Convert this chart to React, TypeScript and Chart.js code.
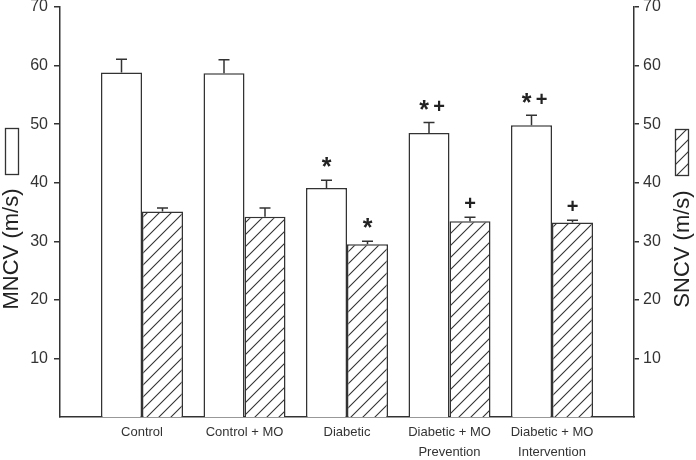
import React, { useEffect, useRef } from 'react';
import { Chart, registerables } from 'chart.js';

Chart.register(...registerables);

const FAMILY = 'Arial, "Liberation Sans", Helvetica, sans-serif';

const categories: string[][] = [
  ['Control'],
  ['Control + MO'],
  ['Diabetic'],
  ['Diabetic + MO', 'Prevention'],
  ['Diabetic + MO', 'Intervention'],
];
const mncv = [58.8, 58.7, 39.1, 48.5, 49.8];
const mncvErr = [2.3, 2.3, 1.3, 1.8, 1.7];
const sncv = [35.1, 34.2, 29.5, 33.4, 33.2];
const sncvErr = [0.6, 1.5, 0.5, 0.7, 0.4];
const mncvMarks = ['', '', '*', '*+', '*+'];
const sncvMarks = ['', '', '*', '+', '+'];
const yTicks = [10, 20, 30, 40, 50, 60, 70];
const leftTitle = 'MNCV (m/s)';
const rightTitle = 'SNCV (m/s)';

const INK = '#333';

function makePattern(ctx: CanvasRenderingContext2D) {
  const pc = document.createElement('canvas');
  pc.width = 12;
  pc.height = 12;
  const p = pc.getContext('2d')!;
  p.fillStyle = '#fff';
  p.fillRect(0, 0, 12, 12);
  p.strokeStyle = INK;
  p.lineWidth = 1.1;
  p.beginPath();
  p.moveTo(-2, 14);
  p.lineTo(14, -2);
  p.moveTo(-2, 2);
  p.lineTo(2, -2);
  p.moveTo(10, 14);
  p.lineTo(14, 10);
  p.stroke();
  return ctx.createPattern(pc, 'repeat')!;
}

function drawChar(ctx: CanvasRenderingContext2D, ch: string, cx: number, cy: number) {
  ctx.font = ch === '*' ? `bold 25px ${FAMILY}` : `bold 20px ${FAMILY}`;
  ctx.textAlign = 'center';
  ctx.textBaseline = 'alphabetic';
  const m = ctx.measureText(ch);
  const base = cy + (m.actualBoundingBoxAscent - m.actualBoundingBoxDescent) / 2;
  ctx.fillText(ch, cx, base);
}

export default function App() {
  const ref = useRef<HTMLCanvasElement>(null);

  useEffect(() => {
    const canvas = ref.current!;
    const ctx = canvas.getContext('2d')!;
    const pattern = makePattern(ctx);

    const overlay = {
      id: 'overlay',
      afterDatasetsDraw(chart: any) {
        const c = chart.ctx as CanvasRenderingContext2D;
        const sets = [
          { vals: mncv, errs: mncvErr, marks: mncvMarks, axis: 'y' },
          { vals: sncv, errs: sncvErr, marks: sncvMarks, axis: 'y2' },
        ];
        sets.forEach((s, di) => {
          const meta = chart.getDatasetMeta(di);
          const scale = chart.scales[s.axis];
          meta.data.forEach((bar: any, i: number) => {
            const x = bar.x;
            const yTop = bar.y;
            const yErr = scale.getPixelForValue(s.vals[i] + s.errs[i]);
            c.save();
            c.strokeStyle = INK;
            c.lineWidth = 1.5;
            c.beginPath();
            c.moveTo(x, yTop);
            c.lineTo(x, yErr);
            c.moveTo(x - 5.5, yErr);
            c.lineTo(x + 5.5, yErr);
            c.stroke();
            c.fillStyle = '#222';
            const m = s.marks[i];
            if (m === '*') drawChar(c, '*', x, yErr - 18);
            else if (m === '+') drawChar(c, '+', x, yErr - 15);
            else if (m === '*+') {
              drawChar(c, '*', x - 5, yErr - 17);
              drawChar(c, '+', x + 10, yErr - 17);
            }
            c.restore();
          });
        });
      },
      afterDraw(chart: any) {
        const c = chart.ctx as CanvasRenderingContext2D;
        const a = chart.chartArea;
        const cy = (a.top + a.bottom) / 2 + 37;
        c.save();
        c.fillStyle = '#222';
        c.font = `22px ${FAMILY}`;
        c.textAlign = 'center';
        c.textBaseline = 'middle';
        c.save();
        c.translate(a.left - 48, cy);
        c.rotate(-Math.PI / 2);
        c.fillText(leftTitle, 0, 0);
        c.restore();
        c.save();
        c.translate(a.right + 49, cy);
        c.rotate(-Math.PI / 2);
        c.fillText(rightTitle, 0, 0);
        c.restore();
        // legend swatches
        c.lineWidth = 1.3;
        c.strokeStyle = INK;
        c.fillStyle = '#fff';
        c.fillRect(a.left - 55, cy - 121, 13, 46);
        c.strokeRect(a.left - 55 + 0.5, cy - 121 + 0.5, 13, 46);
        c.fillStyle = pattern;
        c.fillRect(a.right + 41, cy - 120, 13, 46);
        c.strokeRect(a.right + 41 + 0.5, cy - 120 + 0.5, 13, 46);
        c.restore();
      },
    };

    const chart = new Chart(ctx, {
      type: 'bar',
      data: {
        datasets: [
          {
            label: leftTitle,
            data: mncv.map((v, i) => ({ x: i, y: v })),
            backgroundColor: '#fff',
            borderColor: INK,
            borderWidth: 1.5,
            yAxisID: 'y',
            categoryPercentage: 0.8,
            barPercentage: 1.0,
          } as any,
          {
            label: rightTitle,
            data: sncv.map((v, i) => ({ x: i, y: v })),
            backgroundColor: pattern,
            borderColor: INK,
            borderWidth: 1.5,
            yAxisID: 'y2',
            categoryPercentage: 0.8,
            barPercentage: 1.0,
          } as any,
        ],
      },
      options: {
        responsive: false,
        animation: false,
        layout: { padding: { top: 7, left: 0, right: 0, bottom: 0 } },
        plugins: { legend: { display: false }, tooltip: { enabled: false } },
        scales: {
          x: {
            type: 'linear',
            offset: false,
            min: -0.8,
            max: 4.8,
            afterBuildTicks: (s: any) => {
              s.ticks = categories.map((_, i) => ({ value: i }));
            },
            afterFit: (s: any) => {
              s.height = 43;
              s.paddingLeft = 0;
              s.paddingRight = 0;
            },
            ticks: {
              autoSkip: false,
              maxRotation: 0,
              minRotation: 0,
              padding: 5,
              color: '#333',
              font: { family: FAMILY, size: 13, lineHeight: 1.54 },
              callback: (v: any) => categories[Math.round(v)] ?? '',
            },
            grid: { display: false, drawTicks: false, offset: false },
            border: { display: true, color: INK, width: 1.5 },
          },
          y: {
            position: 'left',
            min: 0,
            max: 70,
            afterBuildTicks: (s: any) => {
              s.ticks = yTicks.map((v) => ({ value: v }));
            },
            afterFit: (s: any) => {
              s.width = 60;
              s.paddingTop = 0;
              s.paddingBottom = 0;
            },
            ticks: {
              padding: 6,
              color: '#333',
              font: { family: FAMILY, size: 16 },
            },
            grid: { drawOnChartArea: false, drawTicks: true, tickLength: 6, color: INK, lineWidth: 1.5 },
            border: { display: true, color: INK, width: 1.5 },
          },
          y2: {
            position: 'right',
            min: 0,
            max: 70,
            afterBuildTicks: (s: any) => {
              s.ticks = yTicks.map((v) => ({ value: v }));
            },
            afterFit: (s: any) => {
              s.width = 62;
              s.paddingTop = 0;
              s.paddingBottom = 0;
            },
            ticks: {
              padding: 4,
              color: '#333',
              font: { family: FAMILY, size: 16 },
            },
            grid: { drawOnChartArea: false, drawTicks: true, tickLength: 5, color: INK, lineWidth: 1.5 },
            border: { display: true, color: INK, width: 1.5 },
          },
        },
      } as any,
      plugins: [overlay],
    });
    return () => chart.destroy();
  }, []);

  return (
    <div style={{ position: 'fixed', left: 0, top: 0, width: 696, height: 460, background: '#fff' }}>
      <canvas ref={ref} width={696} height={460} style={{ display: 'block' }} />
    </div>
  );
}
